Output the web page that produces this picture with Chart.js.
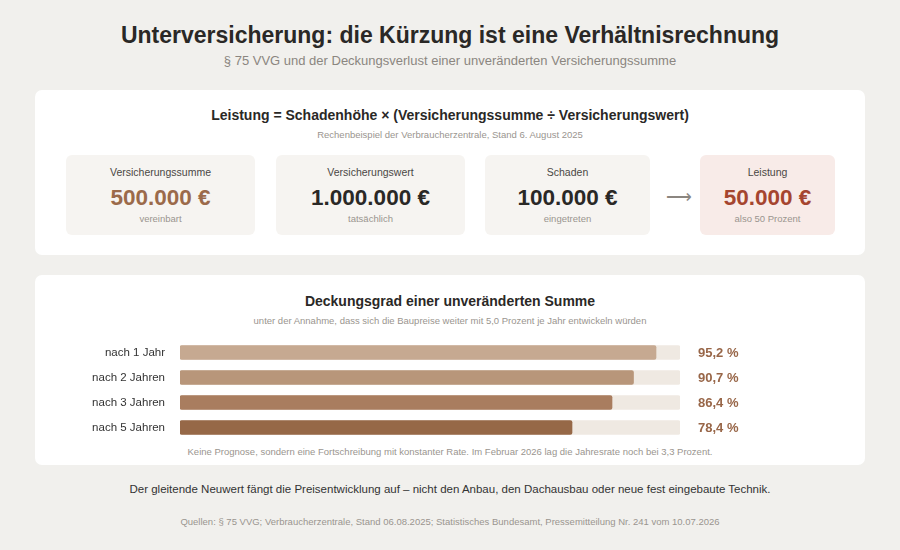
<!DOCTYPE html>
<html lang="de">
<head>
<meta charset="utf-8">
<title>Unterversicherung</title>
<script src="https://cdn.jsdelivr.net/npm/chart.js@4.4.1/dist/chart.umd.min.js"></script>
<style>
  html, body { margin: 0; padding: 0; }
  body {
    width: 900px; height: 550px; overflow: hidden; position: relative;
    background: #f1f0ed; font-family: "Liberation Sans", Arial, sans-serif; color: #2a2826;
  }
  .abs { position: absolute; }
  .center { left: 0; width: 900px; text-align: center; }
  h1 { margin: 0; top: 22px; font-size: 23px; font-weight: bold; }
  .sub { top: 53px; font-size: 13px; color: #8b8680; }
  .card { background: #fff; border-radius: 7px; left: 35px; width: 830px; }
  .card h2 { position: absolute; left: 0; width: 830px; text-align: center; margin: 0; font-size: 14px; font-weight: bold; }
  .card .small { position: absolute; left: 0; width: 830px; text-align: center; font-size: 9.5px; color: #9a958f; }
  .box { position: absolute; top: 65px; height: 80px; background: #f6f4f1; border-radius: 6px; text-align: center; }
  .box .l { position: absolute; top: 11px; width: 100%; font-size: 10.5px; color: #4a4744; }
  .box .v { position: absolute; top: 30px; width: 100%; font-size: 22.5px; font-weight: bold; }
  .box .s { position: absolute; top: 58px; width: 100%; font-size: 9.5px; color: #9a958f; }
  .arrow { position: absolute; left: 631px; font-size: 18px; color: #8b8680; }
  #chartWrap { position: absolute; left: 45px; top: 64.5px; width: 700px; height: 100px; }
  .foot { top: 483px; font-size: 11.5px; color: #333; }
  .src { top: 516px; font-size: 9.5px; color: #9a958f; }
</style>
</head>
<body>
<h1 class="abs center">Unterversicherung: die Kürzung ist eine Verhältnisrechnung</h1>
<div class="abs center sub">§ 75 VVG und der Deckungsverlust einer unveränderten Versicherungssumme</div>

<div class="abs card" style="top:90px;height:165px;">
  <h2 style="top:17px;">Leistung = Schadenhöhe × (Versicherungssumme ÷ Versicherungswert)</h2>
  <div class="small" style="top:39px;">Rechenbeispiel der Verbraucherzentrale, Stand 6. August 2025</div>
  <div class="box" style="left:31px;width:189px;">
    <div class="l">Versicherungssumme</div>
    <div class="v" style="color:#9b6a4a;">500.000 €</div>
    <div class="s">vereinbart</div>
  </div>
  <div class="box" style="left:241px;width:189px;">
    <div class="l">Versicherungswert</div>
    <div class="v">1.000.000 €</div>
    <div class="s">tatsächlich</div>
  </div>
  <div class="box" style="left:450px;width:165px;">
    <div class="l">Schaden</div>
    <div class="v">100.000 €</div>
    <div class="s">eingetreten</div>
  </div>
  <div class="arrow" style="top:96px;">⟶</div>
  <div class="box" style="left:665px;width:135px;background:#f8ebe8;">
    <div class="l">Leistung</div>
    <div class="v" style="color:#a5452f;">50.000 €</div>
    <div class="s">also 50 Prozent</div>
  </div>
</div>

<div class="abs card" style="top:275px;height:190px;">
  <h2 style="top:18px;">Deckungsgrad einer unveränderten Summe</h2>
  <div class="small" style="top:40px;">unter der Annahme, dass sich die Baupreise weiter mit 5,0 Prozent je Jahr entwickeln würden</div>
  <div id="chartWrap"><canvas id="myChart" width="700" height="100" style="width:700px;height:100px;"></canvas></div>
  <div class="small" style="top:171px;">Keine Prognose, sondern eine Fortschreibung mit konstanter Rate. Im Februar 2026 lag die Jahresrate noch bei 3,3 Prozent.</div>
</div>

<div class="abs center foot">Der gleitende Neuwert fängt die Preisentwicklung auf – nicht den Anbau, den Dachausbau oder neue fest eingebaute Technik.</div>
<div class="abs center src">Quellen: § 75 VVG; Verbraucherzentrale, Stand 06.08.2025; Statistisches Bundesamt, Pressemitteilung Nr. 241 vom 10.07.2026</div>

<script>
const etiquetas = ["nach 1 Jahr", "nach 2 Jahren", "nach 3 Jahren", "nach 5 Jahren"];
const deckungsgrad = [95.2, 90.7, 86.4, 78.4];
const vollDeckung = [100, 100, 100, 100];
const textoValores = ["95,2 %", "90,7 %", "86,4 %", "78,4 %"];

const coloresBarras = ["#c6a991", "#b8967a", "#a97d5f", "#966847"];

// etiquetas de valor a la derecha de la pista
const valorLabels = {
  id: "valorLabels",
  afterDatasetsDraw(chart) {
    const ctx = chart.ctx;
    const x = chart.scales.x.getPixelForValue(100) + 18;
    const meta = chart.getDatasetMeta(0);
    ctx.save();
    ctx.font = "bold 13px 'Liberation Sans', Arial, sans-serif";
    ctx.fillStyle = "#986648";
    ctx.textAlign = "left";
    ctx.textBaseline = "middle";
    meta.data.forEach((bar, i) => {
      ctx.fillText(textoValores[i], x, bar.y + 1);
    });
    ctx.restore();
  }
};

const grafica = document.getElementById("myChart").getContext("2d");
const myChart = new Chart(grafica, {
  type: "bar",
  data: {
    labels: etiquetas,
    datasets: [
      {
        label: "Deckungsgrad",
        data: deckungsgrad,
        backgroundColor: coloresBarras,
        borderRadius: 2,
        borderSkipped: false,
        barThickness: 14,
        grouped: false,
        order: 1
      },
      {
        label: "100 %",
        data: vollDeckung,
        backgroundColor: "#efe9e2",
        borderRadius: 2,
        borderSkipped: false,
        barThickness: 14,
        grouped: false,
        order: 2
      }
    ]
  },
  options: {
    indexAxis: "y",
    responsive: false,
    animation: false,
    layout: { autoPadding: false, padding: { left: 0, right: 100, top: 0, bottom: 0 } },
    plugins: { legend: { display: false }, tooltip: { enabled: false } },
    scales: {
      x: { min: 0, max: 100, display: false },
      y: {
        grid: { display: false },
        border: { display: false },
        afterFit(scale) {
          scale.width = 100;
          scale.paddingTop = 0;
          scale.paddingBottom = 0;
        },
        ticks: {
          padding: 15,
          color: "#333",
          font: { family: "'Liberation Sans', Arial, sans-serif", size: 11.5 }
        }
      }
    }
  },
  plugins: [valorLabels]
});

// las etiquetas del eje terminan unos 15 px antes de la barra
myChart.options.scales.y.ticks.padding = 7;
myChart.update();
</script>
</body>
</html>
